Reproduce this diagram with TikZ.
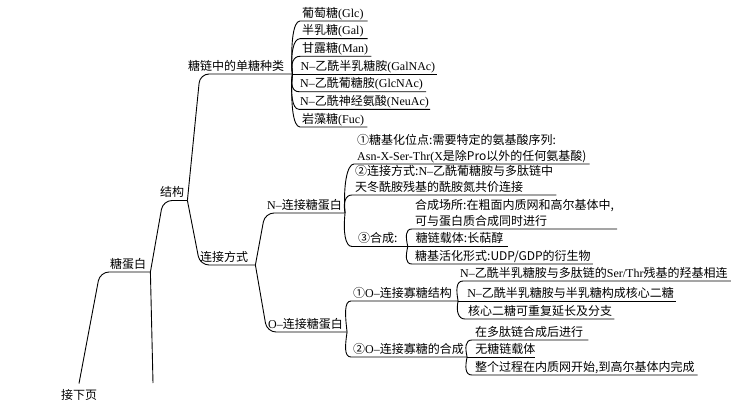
\documentclass[tikz,border=0pt]{standalone}
\usepackage{fontspec}
\setmainfont{Noto Sans CJK SC}
\newfontfamily\latf{Liberation Serif}
\newcommand\Lt[1]{{\latf #1}}
\newcommand\dn{\rule[-3.5pt]{0pt}{1pt}}
\usetikzlibrary{calc}
\begin{document}
\begin{tikzpicture}[x=1pt,y=-1pt,
  every node/.style={font=\fontsize{12}{16}\selectfont, text=black},
  lbl/.style={anchor=south west, inner xsep=0pt, inner ysep=0pt, text height=9pt, text depth=3.5pt},
  lbltwo/.style={anchor=south west, inner xsep=3pt, inner ysep=0pt, align=left},
  padl/.style={execute at begin node={\hspace*{#1pt}}},
  padr/.style={execute at end node={\hspace*{#1pt}}},
  lnk/.style={draw=black, line width=0.9pt},
  trunk/.style={lnk, rounded corners=9pt},
  brc/.style={to path={.. controls ($(\tikztostart)!0.55!(\tikztostart|-\tikztotarget)+(-2,0)$) and ($(\tikztotarget)+(-7,0)$) .. (\tikztotarget)}},
]
\useasboundingbox (0,0) rectangle (731,404);

% trunk nodes
\node[lbl, anchor=north, outer ysep=7pt] (xiaye) at (79,383.5) {接下页};
\coordinate (nextp) at (153,383);
\node[lbl, padl=10, padr=4] (tdb) at (100,272) {糖蛋白};
\node[lbl, padl=-3, padr=3] (jg) at (163,200.5) {结构};
\node[lbl, padl=0, padr=7] (ljfs) at (200,265) {连接方式};
\node[lbl, padl=-12, padr=8] (dtzl) at (200,74) {糖链中的单糖种类};

% monosaccharides
\node[lbl, padl=2, padr=4] (glc) at (300,21) {葡萄糖\Lt{(Glc)}};
\node[lbl, padl=2, padr=4] (gal) at (300,38.7) {半乳糖\Lt{(Gal)}};
\node[lbl, padl=2, padr=3] (man) at (300,56.3) {甘露糖\Lt{(Man)}};
\node[lbl, padl=8, padr=2] (galnac) at (dtzl.south east) {\Lt{N–}乙酰半乳糖胺\Lt{(GalNAc)}};
\node[lbl, padl=1, padr=3] (glcnac) at (299,91.7) {\Lt{N–}乙酰葡糖胺\Lt{(GlcNAc)}};
\node[lbl, padl=1, padr=1] (neuac) at (299,109.3) {\Lt{N–}乙酰神经氨酸\Lt{(NeuAc)}};
\node[lbl, padl=2, padr=3] (fuc) at (300,127) {岩藻糖\Lt{(Fuc)}};

% N / O linked
\node[lbl, padl=2, padr=3] (nlk) at (265,213) {\Lt{N–}连接糖蛋白};
\node[lbl, padl=1, padr=4] (olk) at (267,332) {\Lt{O–}连接糖蛋白};

% N children
\node[lbltwo] (n1) at (354,164) {①糖基化位点:需要特定的氨基酸序列:\\\Lt{Asn-X-Ser-Thr(X}是除Pro以外的任何氨基酸)\dn};
\node[lbltwo] (n2) at (352,195) {②连接方式:\Lt{N–}乙酰葡糖胺与多肽链中\\天冬酰胺残基的酰胺氮共价连接\dn};
\node[lbl, padl=6, padr=10] (n3) at (352,246.5) {③合成:};
\node[lbltwo] (n3a) at (412,229) {合成场所:在粗面内质网和高尔基体中,\\可与蛋白质合成同时进行\dn};
\node[lbl, padl=8, padr=5] (n3b) at (n3.south east) {糖链载体:长萜醇};
\node[lbl, padl=3, padr=2] (n3c) at (412,264) {糖基活化形式:UDP/GDP的衍生物};

% O children
\node[lbl, padl=2, padr=6] (o1) at (351,301) {①\Lt{O–}连接寡糖结构};
\node[lbl, padl=-3, padr=4] (o1a) at (463,281) {\Lt{N–}乙酰半乳糖胺与多肽链的\Lt{Ser/Thr}残基的羟基相连};
\node[lbl, padl=9, padr=2] (o1b) at (o1.south east) {\Lt{N–}乙酰半乳糖胺与半乳糖构成核心二糖};
\node[lbl, padl=3, padr=2] (o1c) at (465,319) {核心二糖可重复延长及分支};
\node[lbl, padl=2, padr=3] (o2) at (351,357) {②\Lt{O–}连接寡糖的合成};
\node[lbl, padl=3, padr=5] (o2a) at (472,340) {在多肽链合成后进行};
\node[lbl, padl=8, padr=0] (o2b) at (o2.south east) {无糖链载体};
\node[lbl, padl=3, padr=3] (o2c) at (472,375) {整个过程在内质网开始,到高尔基体内完成};

% trunk connectors
\draw[trunk] (xiaye.north) -- (tdb.south west) -- (tdb.south east);
\draw[lnk] (tdb.south east) -- (nextp);
\draw[trunk] (tdb.south east) -- (jg.south west) -- (jg.south east);
\draw[trunk] (jg.south east) -- (dtzl.south west) -- (dtzl.south east);
\draw[trunk] (jg.south east) -- (ljfs.south west) -- (ljfs.south east);
\draw[trunk] (ljfs.south east) -- (nlk.south west) -- (nlk.south east);
\draw[trunk] (ljfs.south east) -- (olk.south west) -- (olk.south east);

% braces
\foreach \nm in {glc,gal,man,glcnac,neuac,fuc}
  \draw[lnk] (dtzl.south east) to[brc] (\nm.south west) -- (\nm.south east);
\draw[lnk] (galnac.south west) -- (galnac.south east);
\foreach \nm in {n1,n2,n3}
  \draw[lnk] (nlk.south east) to[brc] (\nm.south west) -- (\nm.south east);
\foreach \nm in {n3a,n3c}
  \draw[lnk] (n3.south east) to[brc] (\nm.south west) -- (\nm.south east);
\draw[lnk] (n3b.south west) -- (n3b.south east);
\foreach \nm in {o1,o2}
  \draw[lnk] (olk.south east) to[brc] (\nm.south west) -- (\nm.south east);
\foreach \nm in {o1a,o1c}
  \draw[lnk] (o1.south east) to[brc] (\nm.south west) -- (\nm.south east);
\draw[lnk] (o1b.south west) -- (o1b.south east);
\foreach \nm in {o2a,o2c}
  \draw[lnk] (o2.south east) to[brc] (\nm.south west) -- (\nm.south east);
\draw[lnk] (o2b.south west) -- (o2b.south east);
\end{tikzpicture}
\end{document}
